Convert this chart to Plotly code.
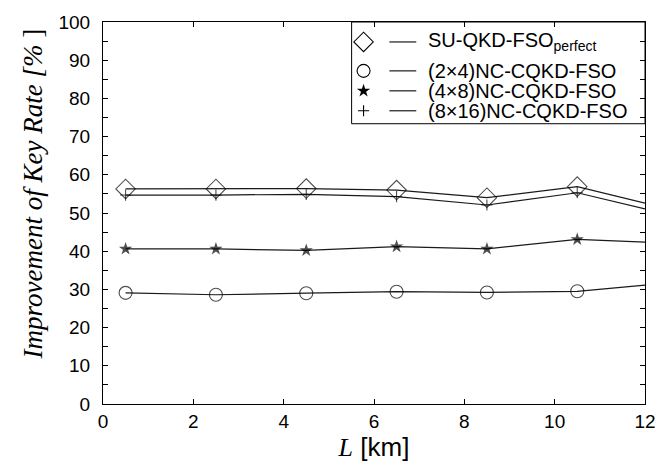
import plotly.graph_objects as go

# Link length L [km] and key-rate improvement [%] for each scheme
distance_km = [0.5, 2.5, 4.5, 6.5, 8.5, 10.5, 12]
su_qkd_perfect = [56.3, 56.3, 56.4, 56.0, 54.0, 56.9, 52.6]
nc_2x4 = [29.1, 28.6, 29.0, 29.4, 29.2, 29.5, 31.1]
nc_4x8 = [40.6, 40.6, 40.2, 41.2, 40.6, 43.1, 42.4]
nc_8x16 = [54.7, 54.7, 54.9, 54.3, 52.1, 55.3, 51.1]

series_names = [
    "SU-QKD-FSO<sub>perfect</sub>",
    "(2\u00d74)NC-CQKD-FSO",
    "(4\u00d78)NC-CQKD-FSO",
    "(8\u00d716)NC-CQKD-FSO",
]
series_values = [su_qkd_perfect, nc_2x4, nc_4x8, nc_8x16]
marker_styles = [
    dict(symbol="diamond-open", size=15, color="black", line=dict(width=1.1, color="black")),
    dict(symbol="circle-open", size=13, color="black", line=dict(width=1.1, color="black")),
    dict(symbol="star", size=10, color="black", line=dict(width=0)),
    dict(symbol="cross-thin-open", size=8, color="black", line=dict(width=1.1, color="black")),
]

LINE_COLOR = "#1a1a1a"
fig = go.Figure()

for name, vals, mk in zip(series_names, series_values, marker_styles):
    # markers only at the sampled distances; the line runs on to the axis edge
    sizes = [mk["size"]] * (len(distance_km) - 1) + [0]
    m = dict(mk)
    m["size"] = sizes
    fig.add_trace(go.Scatter(
        x=distance_km, y=vals, mode="lines+markers", name=name,
        line=dict(color=LINE_COLOR, width=1.2),
        marker=m, showlegend=False,
    ))

# Hand-built legend on a pixel-scaled overlay axis pair
L_X0, L_X1, L_Y0, L_Y1 = 353, 648, 21, 123
row_y = [41, 70, 90, 110]
fig.add_shape(type="rect", xref="x2", yref="y2", x0=L_X0, x1=L_X1, y0=L_Y0, y1=L_Y1,
              line=dict(color="black", width=1), fillcolor="white", layer="below")
for name, mk, yy in zip(series_names, marker_styles, row_y):
    fig.add_trace(go.Scatter(
        x=[365], y=[yy], xaxis="x2", yaxis="y2", mode="markers",
        marker=mk, showlegend=False, hoverinfo="skip",
    ))
    fig.add_trace(go.Scatter(
        x=[391, 418], y=[yy, yy], xaxis="x2", yaxis="y2", mode="lines",
        line=dict(color=LINE_COLOR, width=1.2), showlegend=False, hoverinfo="skip",
    ))
    fig.add_annotation(
        x=428, y=yy, xref="x2", yref="y2", text=name, showarrow=False,
        xanchor="left", yanchor="middle",
        font=dict(family="Liberation Sans, Arial, sans-serif", size=20, color="black"),
    )

# Vertical axis title, set slightly above the axis midpoint
fig.add_annotation(
    x=-0.13, y=0.55, xref="paper", yref="paper", textangle=-90,
    text="<i>Improvement of Key Rate [%</i> ]", showarrow=False,
    xanchor="center", yanchor="middle",
    font=dict(family="Liberation Serif, Times New Roman, serif", size=27, color="black"),
)

fig.update_layout(
    width=668, height=473,
    margin=dict(l=103, r=20, t=21, b=69),
    paper_bgcolor="white", plot_bgcolor="white",
    font=dict(family="Liberation Sans, Arial, sans-serif", size=19, color="black"),
    xaxis=dict(
        range=[0, 12], dtick=2, tick0=0,
        ticks="inside", ticklen=5, tickcolor="black",
        showline=True, linecolor="black", linewidth=1, mirror="ticks",
        showgrid=False, zeroline=False,
        title=dict(
            text='<span style="font-family:Liberation Serif"><i>L</i></span> [km]',
            font=dict(size=26), standoff=6,
        ),
    ),
    yaxis=dict(
        range=[0, 100], dtick=10, tick0=0,
        ticks="inside", ticklen=5, tickcolor="black",
        minor=dict(dtick=5, ticks="inside", ticklen=5, tickcolor="black"),
        showline=True, linecolor="black", linewidth=1, mirror="ticks",
        showgrid=False, zeroline=False, ticklabelstandoff=8,
    ),
    xaxis2=dict(overlaying="x", anchor="y2", range=[103, 648], visible=False, fixedrange=True),
    yaxis2=dict(overlaying="y", anchor="x2", range=[404, 21], visible=False, fixedrange=True),
)

fig.write_html("out.html")
